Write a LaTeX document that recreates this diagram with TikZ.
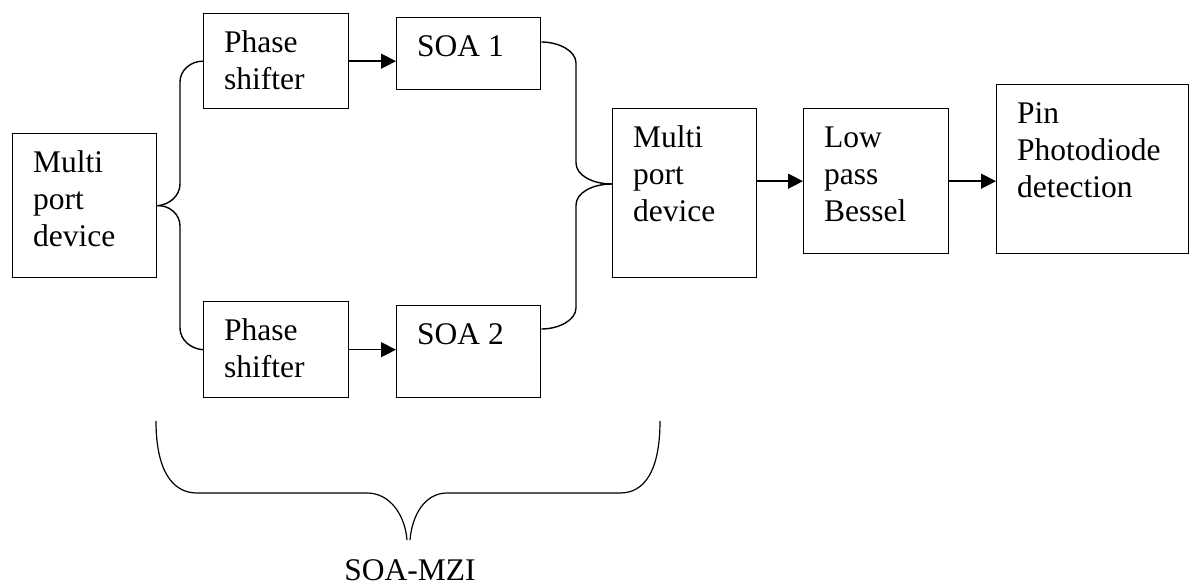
\documentclass[tikz,border=0pt]{standalone}
\usepackage{fontspec}
\setmainfont{Liberation Serif}
\usetikzlibrary{arrows.meta,calc}

\begin{document}
\begin{tikzpicture}[x=1pt,y=-1pt,
  block/.style={draw,line width=1.4pt,rectangle,inner sep=0pt},
  lbl/.style={anchor=north west,inner sep=0pt,align=left,
    font=\fontsize{31.5}{37}\selectfont},
  flow/.style={line width=1.4pt,-{Triangle[length=15pt,width=15pt]}},
  link/.style={line width=1.4pt},
  brace/.style={line width=1.2pt}]

\useasboundingbox (0,0) rectangle (1193,585);

% a block: name, left, top, right, bottom, text
\newcommand\blk[6]{%
  \node[block,minimum width={#4-#2},minimum height={#5-#3},anchor=north west]
    (#1) at (#2,#3) {};
  \node[lbl] (#1-t) at (#2+21,#3+14) {\rule{0pt}{25pt}#6};}

\blk{mp1}{12}{133}{156}{277}{Multi\\port\\device}
\blk{ps1}{203}{13}{348}{108}{Phase\\shifter}
\blk{ps2}{203}{301}{348}{397}{Phase\\shifter}
\blk{soa1}{396}{17}{540}{89}{SOA 1}
\blk{soa2}{396}{305}{540}{397}{SOA 2}
\blk{mp2}{612}{108}{756}{277}{Multi\\port\\device}
\blk{lp}{803}{108}{948}{253}{Low\\pass\\Bessel}
\blk{pin}{996}{84}{1188}{253}{Pin\\Photodiode\\detection}

% splitter from the first multi-port device
\draw[link] (mp1.east) .. controls (169,205) and (180,196) .. (180,184)
  -- (180,82) .. controls (180,70) and (191,61) .. (ps1.west);
\draw[link] (mp1.east) .. controls (169,205) and (180,214) .. (180,226)
  -- (180,328) .. controls (180,340) and (191,349) .. (ps2.west);

% phase shifters into the amplifiers
\draw[flow] (ps1.east) -- (ps1.east -| soa1.west);
\draw[flow] (ps2.east) -- (ps2.east -| soa2.west);

% combiner into the second multi-port device
\coordinate (o1) at ($(soa1.north east)+(0,25)$);
\coordinate (o2) at ($(soa2.north east)+(0,24)$);
\coordinate (i2) at ($(mp2.north west)+(0,76)$);
\draw[link] (o1) .. controls (559,42) and (576,51) .. (576,63) -- (576,163)
  .. controls (576,175) and (592,184) .. (i2);
\draw[link] (o2) .. controls (559,329) and (576,320) .. (576,308) -- (576,205)
  .. controls (576,193) and (592,184) .. (i2);

% output chain
\draw[flow] (lp.west -| mp2.east) -- (lp.west);
\draw[flow] (lp.east) -- (lp.east -| pin.west);

% brace under the interferometer
\draw[brace] (156,421) .. controls (156,470) and (172,493) .. (197,493)
  -- (367,493) .. controls (390,493) and (405,515) .. (407,540);
\draw[brace] (410,540) .. controls (412,515) and (425,493) .. (447,493)
  -- (620,493) .. controls (645,493) and (660,470) .. (660,421);
\node[inner sep=0pt,anchor=base,font=\fontsize{31.5}{37}\selectfont]
  (mzi) at (410,580) {SOA-MZI};

\end{tikzpicture}
\end{document}
